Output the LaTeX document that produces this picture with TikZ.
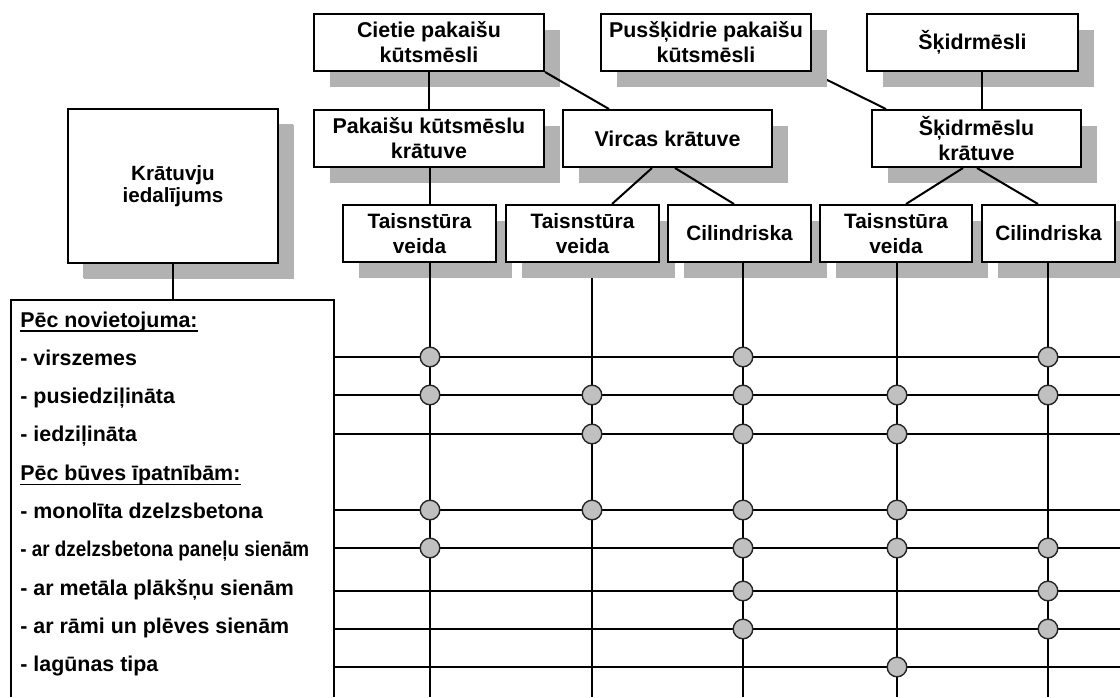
\documentclass[tikz,border=0pt]{standalone}
\usepackage{fontspec}
\setmainfont{Liberation Sans}
\usetikzlibrary{shadows}
\definecolor{shd}{RGB}{178,178,178}
\definecolor{dotc}{RGB}{192,192,192}
\pgfdeclarelayer{behind}
\pgfsetlayers{behind,main}
\begin{document}
\begin{tikzpicture}[x=0.5pt,y=-0.5pt,
  font=\fontsize{10.7}{12.6}\selectfont\bfseries,
  box/.style={draw, line width=1pt, fill=white, inner sep=0pt, align=center,
    minimum height=28.5pt,
    drop shadow={shadow xshift=8pt, shadow yshift=-8pt, opacity=1, fill=shd}},
  typebox/.style={box, font=\fontsize{10.4}{12.8}\selectfont\bfseries},
  conn/.style={line width=1pt},
  hline/.style={line width=0.65pt},
  uline/.style={line width=0.7pt},
  dot/.style={circle, draw=black!85, line width=0.7pt, fill=dotc, minimum size=9.8pt, inner sep=0pt},
  item/.style={anchor=base west, inner sep=0pt}]
\useasboundingbox (0,0) rectangle (1120,697);

% boxes
\node[box, minimum width=115pt] (cietie) at (429,42.5) {Cietie pakaišu\\kūtsmēsli};
\node[box, minimum width=105pt] (puss) at (706,42.5) {Pusšķidrie pakaišu\\kūtsmēsli};
\node[box, minimum width=105.5pt] (skidr) at (972.5,42.5) {Šķidrmēsli};
\node[box, minimum width=115pt] (pakk) at (429,138.5) {Pakaišu kūtsmēslu\\krātuve};
\node[box, minimum width=104.5pt] (virc) at (667.5,138.5) {Vircas krātuve};
\node[box, minimum width=104.5pt] (skk) at (976.5,138.5) {Šķidrmēslu\\krātuve};
\node[box, minimum width=105pt, minimum height=77pt,
  font=\fontsize{10.3}{11.2}\selectfont\bfseries,
  drop shadow={shadow xshift=7.5pt, shadow yshift=-7.5pt, opacity=1, fill=shd}]
  (krat) at (173,186) {Krātuvju\\iedalījums};
\node[typebox, minimum width=76.5pt] (t1) at (419.5,233.5) {Taisnstūra\\veida};
\node[typebox, minimum width=76.5pt] (t2) at (582.5,233.5) {Taisnstūra\\veida};
\node[typebox, minimum width=71.5pt] (c3) at (739.5,233.5) {Cilindriska};
\node[typebox, minimum width=76pt] (t4) at (896,233.5) {Taisnstūra\\veida};
\node[typebox, minimum width=66.5pt] (c5) at (1048.5,233.5) {Cilindriska};

% lines that pass behind shadows
\coordinate (vb2) at (592,697);
\begin{pgfonlayer}{behind}
\draw[conn] ([xshift=-0.5pt]puss.south east) -- ([xshift=7.5pt]skk.north west);
\draw[conn] ([xshift=4.75pt]t2.south) -- (vb2);
\end{pgfonlayer}

% connectors between boxes
\draw[conn] (cietie.south) -- (pakk.north);
\draw[conn] (cietie.south east) -- ([xshift=23.5pt]virc.north west);
\draw[conn] ([xshift=4.75pt]skidr.south) -- ([xshift=4.75pt]skidr.south |- skk.north);
\draw[conn] ([xshift=0.5pt]pakk.south) -- ([xshift=0.5pt]pakk.south |- t1.north);
\draw[conn] ([xshift=-7.75pt]virc.south) -- ([xshift=14.75pt]t2.north);
\draw[conn] ([xshift=3.75pt]virc.south) -- ([xshift=-2.75pt]c3.north);
\draw[conn] ([xshift=-6.75pt]skk.south) -- ([xshift=5pt]t4.north);
\draw[conn] ([xshift=0.25pt]skk.south) -- ([xshift=-5.25pt]c5.north);

% list box
\coordinate (lbl) at (11,697);
\coordinate (ltl) at (11,300);
\coordinate (ltr) at (334,300);
\coordinate (lbr) at (334,697);
\coordinate (lconn) at (173,300);
\draw[conn] (lbl) -- (ltl) -- (ltr) -- (lbr);
\draw[conn] (krat.south) -- (lconn);

\node[item] (l0) at (20,327) {Pēc novietojuma:};
\node[item] (l1) at (20,365.3) {- virszemes};
\node[item] (l2) at (20,403.6) {- pusiedziļināta};
\node[item] (l3) at (20,441.9) {- iedziļināta};
\node[item] (l4) at (20,480.2) {Pēc būves īpatnībām:};
\node[item] (l5) at (20,518.5) {- monolīta dzelzsbetona};
\node[item] (l6) at (20,556.8) {\scalebox{0.88}[1]{- ar dzelzsbetona paneļu sienām}};
\node[item] (l7) at (20,595.1) {- ar metāla plākšņu sienām};
\node[item] (l8) at (20,633.4) {- ar rāmi un plēves sienām};
\node[item] (l9) at (20,671.7) {- lagūnas tipa};
\draw[uline] ([yshift=-2pt]l0.base west) -- ([yshift=-2pt]l0.base east);
\draw[uline] ([yshift=-2pt]l4.base west) -- ([yshift=-2pt]l4.base east);

% horizontal grid lines
\foreach \i/\y in {1/357,2/395,3/434,5/510,6/548,7/591,8/629,9/667}{
  \coordinate (hL\i) at (334,\y);
  \coordinate (hR\i) at (1120,\y);
  \draw[hline] (hL\i) -- (hR\i);
}

% vertical lines from the type boxes
\coordinate (vb1) at (430,697);
\coordinate (vb3) at (743,697);
\coordinate (vb4) at (897,697);
\coordinate (vb5) at (1048,697);
\draw[conn] ([xshift=5.25pt]t1.south) -- (vb1);
\draw[conn] ([xshift=1.75pt]c3.south) -- (vb3);
\draw[conn] ([xshift=0.5pt]t4.south) -- (vb4);
\draw[conn] ([xshift=-0.25pt]c5.south) -- (vb5);

% intersection marks
\foreach \r/\c/\x/\y in {
  1/1/430/357, 1/3/743/357, 1/5/1048/357,
  2/1/430/395, 2/2/592/395, 2/3/743/395, 2/4/897/395, 2/5/1048/395,
  3/2/592/434, 3/3/743/434, 3/4/897/434,
  5/1/430/510, 5/2/592/510, 5/3/743/510, 5/4/897/510,
  6/1/430/548, 6/3/743/548, 6/4/897/548, 6/5/1048/548,
  7/3/743/591, 7/5/1048/591,
  8/3/743/629, 8/5/1048/629,
  9/4/897/667}{
  \node[dot] (d\r-\c) at (\x,\y) {};
}
\end{tikzpicture}
\end{document}
